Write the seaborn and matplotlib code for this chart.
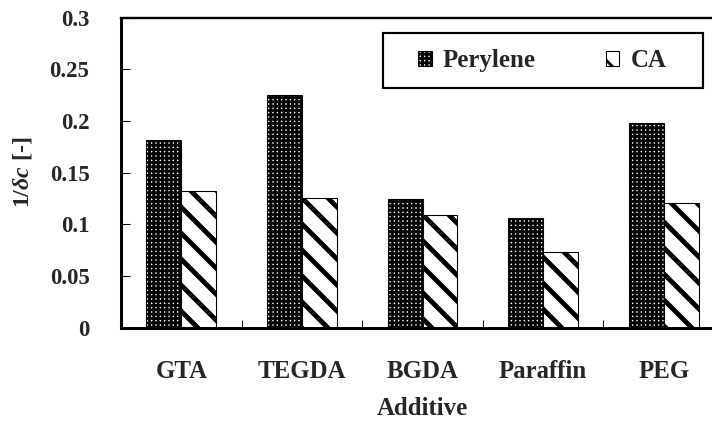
import numpy as np
import pandas as pd
import seaborn as sns
import matplotlib as mpl
import matplotlib.pyplot as plt
from matplotlib.patches import Rectangle

# ---- data ----
additives = ["GTA", "TEGDA", "BGDA", "Paraffin", "PEG"]
series = ["Perylene", "CA"]
perylene = [0.182, 0.225, 0.125, 0.106, 0.198]
ca = [0.132, 0.126, 0.109, 0.073, 0.121]
yticks = [0, 0.05, 0.1, 0.15, 0.2, 0.25, 0.3]
ytick_labels = ["0", "0.05", "0.1", "0.15", "0.2", "0.25", "0.3"]
xlabel = "Additive"
ylabel = r"$1/\delta c$ [-]"

sns.set_style("white")
plt.rcParams['font.family'] = ['Liberation Serif', 'DejaVu Serif']
plt.rcParams['font.weight'] = 'bold'
plt.rcParams['mathtext.fontset'] = 'custom'
plt.rcParams['mathtext.it'] = 'Liberation Serif:italic:bold'
plt.rcParams['mathtext.rm'] = 'Liberation Serif:bold'
plt.rcParams['hatch.linewidth'] = 2.6

DPI = 78
fig = plt.figure(figsize=(712 / DPI, 422 / DPI), dpi=DPI)
ax = fig.add_axes([121 / 712, (422 - 327.8) / 422, 603 / 712, 310.2 / 422])

df = pd.DataFrame({
    "Additive": additives * 2,
    "value": perylene + ca,
    "Series": [series[0]] * len(additives) + [series[1]] * len(additives),
})

sns.barplot(data=df, x="Additive", y="value", hue="Series", order=additives,
            hue_order=series, palette=["white", "white"], width=0.58,
            dodge=True, saturation=1, edgecolor="black", linewidth=1.0,
            legend=False, ax=ax)

hatches = ["+++", "\\"]
hlw = [2.6, 4.5]
for cont, h, lw in zip(ax.containers, hatches, hlw):
    for p in cont:
        p.set_facecolor("white")
        p.set_edgecolor("black")
        p.set_hatch(h)
        if hasattr(p, "set_hatch_linewidth"):
            p.set_hatch_linewidth(lw)

ax.set_xlim(-0.5, len(additives) - 0.5)
ax.set_ylim(0, 0.3)
ax.set_yticks(yticks)
ax.set_yticklabels(ytick_labels)
ax.set_xticks(range(len(additives)))
ax.set_xticklabels(additives)
ax.set_xticks(np.arange(len(additives) + 1) - 0.5, minor=True)

ax.tick_params(axis="x", which="major", length=0, pad=30, labelsize=23)
ax.tick_params(axis="x", which="minor", direction="in", length=7, width=1, color="black", bottom=True)
ax.tick_params(axis="y", which="major", direction="in", length=8.5, width=1, color="black",
               left=True, pad=29, labelsize=21)
for lab in ax.get_xticklabels() + ax.get_yticklabels():
    lab.set_fontweight("bold")

for s in ["left", "bottom"]:
    ax.spines[s].set_linewidth(2.8)
    ax.spines[s].set_color("black")
ax.spines["top"].set_linewidth(2.2)
ax.spines["top"].set_color("black")
ax.spines["right"].set_visible(False)

ax.set_xlabel(xlabel, fontsize=23, fontweight="bold")
ax.set_ylabel(ylabel, fontsize=22, fontweight="bold")
ax.xaxis.set_label_coords(0.5, -0.222)
ax.yaxis.set_label_coords(-0.145, 0.5)

# legend frame
x0 = (383 - 121) / 603
x1 = (703 - 121) / 603
ytop = (327.8 - 33) / 310.2
ybot = (327.8 - 88) / 310.2
ax.add_patch(Rectangle((x0, ybot), x1 - x0, ytop - ybot, transform=ax.transAxes,
                       facecolor="white", edgecolor="black", linewidth=2.0, zorder=5,
                       clip_on=False))
handles = [ax.containers[0][0], ax.containers[1][0]]
leg = ax.legend(handles, series, ncol=2, frameon=False,
                loc="center left",
                bbox_to_anchor=((418 - 121) / 603, (327.8 - 60.5) / 310.2),
                borderpad=0, borderaxespad=0, handlelength=0.55, handleheight=0.55,
                handletextpad=0.45, columnspacing=2.8,
                prop={"family": "Liberation Serif", "weight": "bold", "size": 23})
leg.set_zorder(6)

fig.savefig("out.png", dpi=DPI)
